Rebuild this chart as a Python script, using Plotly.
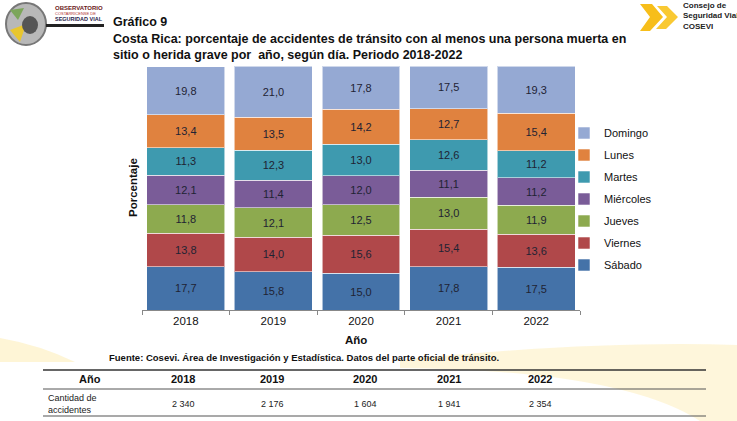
import plotly.graph_objects as go

years = ["2018", "2019", "2020", "2021", "2022"]
dias = ["Sábado", "Viernes", "Jueves", "Miércoles", "Martes", "Lunes", "Domingo"]
sabado = [17.7, 15.8, 15.0, 17.8, 17.5]
viernes = [13.8, 14.0, 15.6, 15.4, 13.6]
jueves = [11.8, 12.1, 12.5, 13.0, 11.9]
miercoles = [12.1, 11.4, 12.0, 11.1, 11.2]
martes = [11.3, 12.3, 13.0, 12.6, 11.2]
lunes = [13.4, 13.5, 14.2, 12.7, 15.4]
domingo = [19.8, 21.0, 17.8, 17.5, 19.3]
series = [sabado, viernes, jueves, miercoles, martes, lunes, domingo]
colors = ["#4472A8", "#B0484A", "#8DAA4F", "#7A5C98", "#3E9AAF", "#E0823F", "#95A9D3"]
cantidad = [2340, 2176, 1604, 1941, 2354]

W, H = 737, 421
L, R, T, B = 142, 580, 66, 310

def px(x):
    return (x - L) / (R - L)

def py(y):
    return (B - y) / (B - T)

fig = go.Figure()
for i, (name, vals, col) in enumerate(zip(dias, series, colors)):
    fig.add_trace(go.Bar(
        x=years, y=vals, name=name, legendgroup=name, legendrank=len(dias) - i,
        marker=dict(color=col, line=dict(color="rgba(255,255,255,0.55)", width=1)),
        text=[f"{v:.1f}".replace(".", ",") for v in vals],
        textposition="inside", insidetextanchor="middle",
        textfont=dict(family="Liberation Sans, Arial", size=11, color="#1f2333"),
        constraintext="none", hoverinfo="skip",
    ))

FONT = "Liberation Sans, Arial"
NARROW = "Liberation Sans Narrow, Arial Narrow, Liberation Sans"

anns = []
shapes = []

# Title
for txt, y in [("Gráfico 9", 22), ("Costa Rica: porcentaje de accidentes de tránsito con al menos una persona muerta en", 39),
               ("sitio o herida grave por  año, según día. Periodo 2018-2022", 55)]:
    anns.append(dict(text=f"<b>{txt}</b>", x=px(111), y=py(y), xref="paper", yref="paper",
                     xanchor="left", yanchor="middle", showarrow=False,
                     font=dict(family=FONT, size=12.5, color="#111111")))

# Axis titles
anns.append(dict(text="<b>Porcentaje</b>", x=px(133), y=py(188), xref="paper", yref="paper",
                 textangle=-90, showarrow=False, xanchor="center", yanchor="middle",
                 font=dict(family=FONT, size=11.5, color="#111111")))
anns.append(dict(text="<b>Año</b>", x=px(356), y=py(340), xref="paper", yref="paper",
                 showarrow=False, xanchor="center", yanchor="middle",
                 font=dict(family=FONT, size=11.5, color="#111111")))
anns.append(dict(text="<b>Fuente: Cosevi. Área de Investigación y Estadística. Datos del parte oficial de tránsito.</b>",
                 x=px(107), y=py(357), xref="paper", yref="paper", showarrow=False,
                 xanchor="left", yanchor="middle", font=dict(family=NARROW, size=9.5, color="#111111")))

# Table
col_x = [90, 183, 272, 365, 449, 540]
anns.append(dict(text="<b>Año</b>", x=px(col_x[0]), y=py(379), xref="paper", yref="paper", showarrow=False,
                 xanchor="center", yanchor="middle", font=dict(family=NARROW, size=11, color="#111111")))
for yr, cx, n in zip(years, col_x[1:], cantidad):
    anns.append(dict(text=f"<b>{yr}</b>", x=px(cx), y=py(379), xref="paper", yref="paper", showarrow=False,
                     xanchor="center", yanchor="middle", font=dict(family=NARROW, size=11, color="#111111")))
    s = f"{n:,}".replace(",", " ")
    anns.append(dict(text=s, x=px(cx), y=py(404), xref="paper", yref="paper", showarrow=False,
                     xanchor="center", yanchor="middle", font=dict(family=NARROW, size=9, color="#222222")))
anns.append(dict(text="Cantidad de<br>accidentes", x=px(46), y=py(404), xref="paper", yref="paper",
                 showarrow=False, xanchor="left", yanchor="middle", align="left",
                 font=dict(family=NARROW, size=9, color="#222222")))
for yl, w, c in [(370, 1.5, "#333333"), (389, 1, "#555555"), (416, 1.2, "#555555")]:
    shapes.append(dict(type="line", xref="paper", yref="paper", x0=px(43), x1=px(706),
                       y0=py(yl), y1=py(yl), line=dict(color=c, width=w)))

# Faint background swooshes
shapes.append(dict(type="path", xref="paper", yref="paper", layer="below",
                   path=f"M {px(0)},{py(338)} Q {px(40)},{py(345)} {px(75)},{py(362)} L {px(0)},{py(362)} Z",
                   fillcolor="rgba(250,215,90,0.25)", line=dict(width=0)))
shapes.append(dict(type="path", xref="paper", yref="paper", layer="below",
                   path=f"M {px(400)},{py(360)} Q {px(600)},{py(340)} {px(737)},{py(345)} L {px(737)},{py(421)} L {px(700)},{py(421)} Q {px(620)},{py(370)} {px(400)},{py(368)} Z",
                   fillcolor="rgba(250,215,90,0.22)", line=dict(width=0)))

# Right logo (COSEVI chevrons)
shapes.append(dict(type="path", xref="paper", yref="paper",
                   path=f"M {px(640)},{py(4)} L {px(652)},{py(4)} L {px(663)},{py(17)} L {px(650)},{py(31)} L {px(640)},{py(31)} L {px(650)},{py(17)} Z",
                   fillcolor="#F7BE1A", line=dict(width=0)))
shapes.append(dict(type="path", xref="paper", yref="paper",
                   path=f"M {px(657)},{py(6)} L {px(667)},{py(6)} L {px(678)},{py(17)} L {px(666)},{py(29)} L {px(656)},{py(29)} L {px(667)},{py(17)} Z",
                   fillcolor="#F9C933", line=dict(width=0)))
anns.append(dict(text="<b>Consejo de<br>Seguridad Vial<br>COSEVI</b>", x=px(681), y=py(16), xref="paper", yref="paper",
                 showarrow=False, xanchor="left", yanchor="middle", align="left",
                 font=dict(family=NARROW, size=8, color="#222222")))

# Left logo (Observatorio)
shapes.append(dict(type="circle", xref="paper", yref="paper", x0=px(6), x1=px(46), y0=py(3), y1=py(45),
                   fillcolor="#B8B8B8", line=dict(color="#777777", width=2)))
shapes.append(dict(type="path", xref="paper", yref="paper",
                   path=f"M {px(10)},{py(30)} L {px(26)},{py(24)} L {px(20)},{py(42)} Z",
                   fillcolor="#E8C62E", line=dict(width=0)))
shapes.append(dict(type="path", xref="paper", yref="paper",
                   path=f"M {px(10)},{py(10)} L {px(24)},{py(8)} L {px(18)},{py(20)} Z",
                   fillcolor="#7CA65A", line=dict(width=0)))
shapes.append(dict(type="circle", xref="paper", yref="paper", x0=px(22), x1=px(38), y0=py(16), y1=py(34),
                   fillcolor="#555555", line=dict(width=0)))
anns.append(dict(text="<b>OBSERVATORIO</b>", x=px(53), y=py(8), xref="paper", yref="paper", showarrow=False,
                 xanchor="left", yanchor="middle", font=dict(family=NARROW, size=6, color="#6B1A1A")))
anns.append(dict(text="COSTARRICENSE DE", x=px(53), y=py(13.5), xref="paper", yref="paper", showarrow=False,
                 xanchor="left", yanchor="middle", font=dict(family=NARROW, size=4, color="#B03030")))
anns.append(dict(text="<b>SEGURIDAD VIAL</b>", x=px(53), y=py(19), xref="paper", yref="paper", showarrow=False,
                 xanchor="left", yanchor="middle", font=dict(family=NARROW, size=5.5, color="#2A1A4A")))
shapes.append(dict(type="rect", xref="paper", yref="paper", x0=px(46), x1=px(104), y0=py(24), y1=py(27),
                   fillcolor="#222222", line=dict(width=0)))

fig.update_layout(
    width=W, height=H,
    margin=dict(l=L, r=W - R, t=T, b=H - B),
    paper_bgcolor="white", plot_bgcolor="white",
    barmode="stack", bargap=0.11,
    font=dict(family=FONT, color="#111111"),
    xaxis=dict(showline=True, linecolor="#888888", linewidth=1, ticks="outside", tickson="boundaries",
               ticklen=4, tickcolor="#888888", tickfont=dict(family=FONT, size=11.5, color="#111111"),
               showgrid=False, fixedrange=True),
    yaxis=dict(visible=False, range=[0, 100.15], fixedrange=True),
    legend=dict(x=px(564), y=py(199), xref="paper", yref="paper", xanchor="left", yanchor="middle",
                traceorder="grouped", tracegroupgap=3,
                font=dict(family=FONT, size=11, color="#111111"), itemwidth=30,
                bgcolor="rgba(0,0,0,0)"),
    annotations=anns, shapes=shapes,
    uniformtext=dict(mode=False),
)

fig.write_html("out.html", config={"displayModeBar": False},
               post_script="document.body.style.margin='0';document.body.style.padding='0';")
